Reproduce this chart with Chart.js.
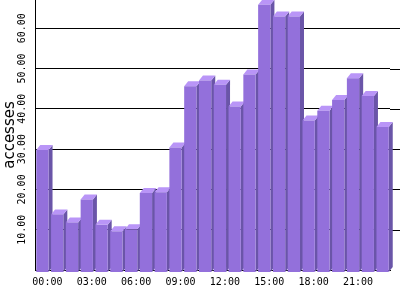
<!DOCTYPE html>
<html>
<head>
<meta charset="utf-8">
<script src="https://cdn.jsdelivr.net/npm/chart.js@4.4.1/dist/chart.umd.min.js"></script>
<style>
  html, body { margin: 0; padding: 0; background: #fff; }
  #wrap { width: 400px; height: 300px; }
</style>
</head>
<body>
<div id="wrap"><canvas id="accessChart"></canvas></div>
<script>
// hourly accesses
const hours = ['00:00', '01:00', '02:00', '03:00', '04:00', '05:00', '06:00', '07:00',
               '08:00', '09:00', '10:00', '11:00', '12:00', '13:00', '14:00', '15:00',
               '16:00', '17:00', '18:00', '19:00', '20:00', '21:00', '22:00', '23:00'];
const accesses = [29.8, 13.8, 11.8, 17.5, 11.2, 9.6, 10.1, 19.1,
                  19.3, 30.4, 45.6, 47.0, 46.0, 40.6, 48.5, 65.8,
                  62.9, 62.9, 37.1, 39.5, 42.2, 47.6, 43.2, 35.5];
const yTicks = [10, 20, 30, 40, 50, 60];

const FRONT = '#9370db';
const TOP   = '#b995f7';
const SIDE  = '#6a55a8';
const DX = 4, DY = 5;

// fake 3d: top + side faces drawn behind the bar fronts
const depthPlugin = {
  id: 'depth',
  beforeDatasetsDraw(chart) {
    const ctx = chart.ctx;
    const area = chart.chartArea;
    const y = chart.scales.y;

    // grid lines run on past the end of the x axis
    ctx.save();
    ctx.strokeStyle = '#000';
    ctx.lineWidth = 1;
    yTicks.forEach(v => {
      const py = Math.round(y.getPixelForValue(v)) + 0.5;
      ctx.beginPath();
      ctx.moveTo(area.right, py);
      ctx.lineTo(chart.width, py);
      ctx.stroke();
    });

    const bars = chart.getDatasetMeta(0).data;
    bars.forEach(bar => {
      const p = bar.getProps(['x', 'y', 'base', 'width'], true);
      const l = p.x - p.width / 2, r = p.x + p.width / 2;
      // side
      ctx.fillStyle = SIDE;
      ctx.beginPath();
      ctx.moveTo(r, p.y);
      ctx.lineTo(r + DX, p.y - DY);
      ctx.lineTo(r + DX, p.base - DY);
      ctx.lineTo(r, p.base);
      ctx.closePath();
      ctx.fill();
      // top
      ctx.fillStyle = TOP;
      ctx.beginPath();
      ctx.moveTo(l, p.y);
      ctx.lineTo(l + DX, p.y - DY);
      ctx.lineTo(r + DX, p.y - DY);
      ctx.lineTo(r, p.y);
      ctx.closePath();
      ctx.fill();
    });
    ctx.restore();
  }
};

const ctx = document.getElementById('accessChart').getContext('2d');
new Chart(ctx, {
  type: 'bar',
  data: {
    labels: hours,
    datasets: [{
      data: accesses,
      backgroundColor: FRONT,
      borderWidth: 0,
      base: -0.5,
      clip: false,
      barPercentage: 0.83,
      categoryPercentage: 1.0
    }]
  },
  options: {
    responsive: true,
    maintainAspectRatio: false,
    animation: false,
    layout: { padding: { left: 0, right: 10, top: 0, bottom: 0 } },
    plugins: { legend: { display: false }, tooltip: { enabled: false } },
    scales: {
      x: {
        z: 1,
        grid: { display: false, drawTicks: false },
        border: { display: true, color: '#000', width: 1 },
        ticks: {
          autoSkip: false,
          maxRotation: 0,
          padding: 6,
          labelOffset: 5,
          color: '#000',
          font: { family: 'DejaVu Sans Mono', size: 10 },
          callback: (v, i) => (i % 3 === 0 ? hours[i] : '')
        },
        afterFit: s => {
          s.height = 30;
          s.paddingLeft = 0; s.paddingRight = 0;
        }
      },
      y: {
        min: 0,
        max: 67,
        grid: { color: '#000', lineWidth: 1, drawTicks: false },
        border: { display: true, color: '#000', width: 1 },
        afterBuildTicks: s => { s.ticks = yTicks.map(v => ({ value: v })); },
        ticks: {
          minRotation: 90,
          maxRotation: 90,
          crossAlign: 'center',
          padding: -2,
          color: '#000',
          font: { family: 'DejaVu Sans Mono', size: 10 },
          callback: v => Number(v).toFixed(2)
        },
        title: {
          display: true,
          text: 'accesses',
          color: '#000',
          padding: { top: 1, bottom: 0 },
          font: { family: 'DejaVu Sans', size: 15 }
        },
        afterFit: s => {
          s.width = 35;
          s.paddingTop = 0; s.paddingBottom = 0;
        }
      }
    }
  },
  plugins: [depthPlugin]
});
</script>
</body>
</html>
